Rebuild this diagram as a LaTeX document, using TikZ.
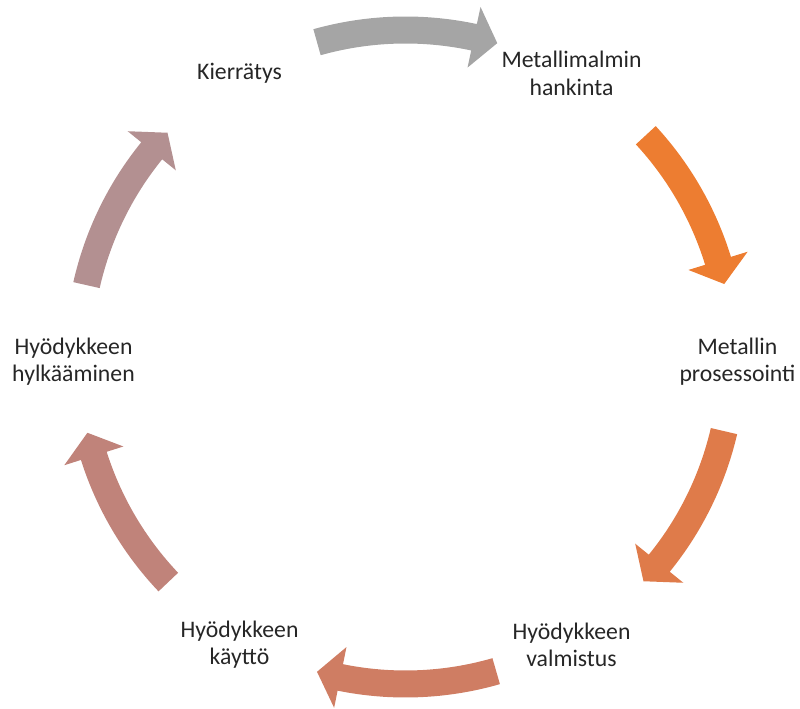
\documentclass[tikz,border=0pt]{standalone}
\usepackage{fontspec}
\setmainfont{Carlito}
\usepackage{tikz}

\definecolor{arrgray}{HTML}{A5A5A5}
\definecolor{arrorange}{HTML}{ED7D31}
\definecolor{arrcopper}{HTML}{DF7B4A}
\definecolor{arrsalmon}{HTML}{CF7D63}
\definecolor{arrrose}{HTML}{C0837A}
\definecolor{arrmauve}{HTML}{B39091}

\begin{document}
\begin{tikzpicture}[x=0.75pt,y=0.75pt,
    stage/.style={align=center,font=\fontsize{17.8}{20.5}\selectfont,text=black!85}]

  \useasboundingbox (-405.5,-352) rectangle (394.5,357);

  \node[stage,yshift=-3pt] (kierratys) at (120:332) {Kierrätys};
  \node[stage,yshift=-3pt] (hankinta) at (60:332) {Metallimalmin\\hankinta};
  \node[stage,yshift=-3.75pt] (prosessointi) at (0:332) {Metallin\\prosessointi};
  \node[stage] (valmistus) at (-60:332) {Hyödykkeen\\valmistus};
  \node[stage] (kaytto) at (-120:332) {Hyödykkeen\\käyttö};
  \node[stage,yshift=-3.75pt] (hylkays) at (180:332) {Hyödykkeen\\hylkääminen};

  % curved block arrows, tail angle / tip angle / colour
  \foreach \tail/\tip/\col in {105.7/73.7/arrgray, 42.7/12.9/arrorange,
      -13.1/-43.3/arrcopper, -73.9/-105.7/arrsalmon,
      -136.5/-166.6/arrrose, 167.3/136.7/arrmauve}
    \fill[\col] ({\tail}:340.5) arc[start angle=\tail, end angle=\tip+4.2, radius=340.5]
      -- ({\tip+4.2}:358) -- ({\tip}:327) -- ({\tip+4.2}:296) -- ({\tip+4.2}:313.5)
      arc[start angle=\tip+4.2, end angle=\tail, radius=313.5] -- cycle;

\end{tikzpicture}
\end{document}
